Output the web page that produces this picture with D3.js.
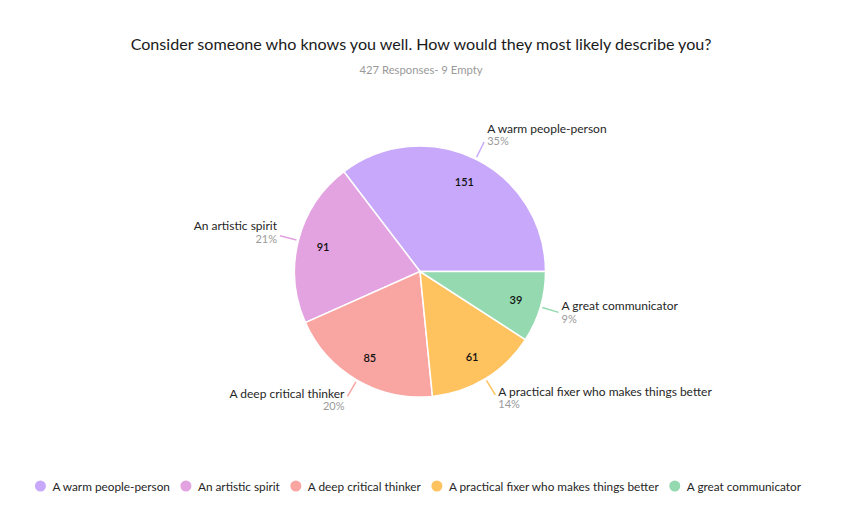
<!DOCTYPE html>
<html>
<head>
<meta charset="utf-8">
<script src="https://cdn.jsdelivr.net/npm/d3@7"></script>
<style>
  body { margin: 0; background: #fff; }
  svg { font-family: Lato, "Open Sans", sans-serif; }
</style>
</head>
<body>
<div id="chart"></div>
<script>
// chart data
var categories = ["A warm people-person", "An artistic spirit", "A deep critical thinker",
                  "A practical fixer who makes things better", "A great communicator"];
var counts = [151, 91, 85, 61, 39];
var percents = ["35%", "21%", "20%", "14%", "9%"];
var colors = ["#c8a8fa", "#e3a2e0", "#f9a5a2", "#fec25f", "#94d9b0"];

var titleText = "Consider someone who knows you well. How would they most likely describe you?";
var subtitleText = "427 Responses- 9 Empty";

var width = 852, height = 526;
var cx = 420, cy = 271.5, radius = 125.5;

var svg = d3.select("#chart").append("svg")
    .attr("width", width)
    .attr("height", height);

svg.append("text")
    .attr("x", 421).attr("y", 50)
    .attr("text-anchor", "middle")
    .attr("font-size", 16.1)
    .attr("fill", "#1a1a1a")
    .text(titleText);

svg.append("text")
    .attr("x", 421).attr("y", 74)
    .attr("text-anchor", "middle")
    .attr("font-size", 11.3)
    .attr("fill", "#9a9a9a")
    .text(subtitleText);

var data = categories.map(function(c, i) {
    return { name: c, value: counts[i], pct: percents[i], color: colors[i] };
});

// counter-clockwise from 3 o'clock, in legend order
var pie = d3.pie()
    .sort(null)
    .value(function(d) { return d.value; })
    .startAngle(Math.PI / 2)
    .endAngle(Math.PI / 2 - 2 * Math.PI);

var arcs = pie(data);
var arc = d3.arc().innerRadius(0).outerRadius(radius);
var valueArc = d3.arc().innerRadius(100).outerRadius(100);

var g = svg.append("g")
    .attr("transform", "translate(" + cx + "," + cy + ")");

g.selectAll("path.slice")
    .data(arcs)
    .enter()
    .append("path")
    .attr("class", "slice")
    .attr("d", arc)
    .attr("fill", function(d) { return d.data.color; })
    .attr("stroke", "#fff")
    .attr("stroke-width", 1.5);

g.selectAll("text.value")
    .data(arcs)
    .enter()
    .append("text")
    .attr("class", "value")
    .attr("transform", function(d) { return "translate(" + valueArc.centroid(d) + ")"; })
    .attr("text-anchor", "middle")
    .attr("dominant-baseline", "central")
    .attr("font-size", 11)
    .attr("font-weight", 600)
    .attr("fill", "#111")
    .text(function(d) { return d.data.value; });

// leader lines and outside labels
function midAngle(d) { return (d.startAngle + d.endAngle) / 2; }
function polar(r, a) { return [r * Math.sin(a), -r * Math.cos(a)]; }

arcs.forEach(function(d) {
    var a = midAngle(d);
    var p0 = polar(radius + 2, a), p1 = polar(radius + 19, a);
    var right = Math.sin(a) > 0;
    g.append("line")
        .attr("x1", p0[0]).attr("y1", p0[1])
        .attr("x2", p1[0]).attr("y2", p1[1])
        .attr("stroke", d.data.color)
        .attr("stroke-width", 1.5);

    var tx = p1[0] + (right ? 3 : -3);
    var mid = p1[1] - 6 * Math.cos(a) - 1.5;
    var lab = g.append("text")
        .attr("text-anchor", right ? "start" : "end")
        .attr("font-size", 12);
    lab.append("tspan")
        .attr("x", tx).attr("y", mid - 2.5)
        .attr("fill", "#262626")
        .text(d.data.name);
    lab.append("tspan")
        .attr("x", tx).attr("y", mid + 10)
        .attr("font-size", 11)
        .attr("fill", "#9a9a9a")
        .text(d.data.pct);
});

// legend
var legend = svg.append("g");
var lx = 0;
data.forEach(function(d) {
    var item = legend.append("g").attr("transform", "translate(" + lx + ",0)");
    item.append("circle")
        .attr("cx", 0).attr("cy", 0).attr("r", 5.5)
        .attr("fill", d.color);
    var t = item.append("text")
        .attr("x", 12).attr("y", 0)
        .attr("dominant-baseline", "central")
        .attr("font-size", 11.8)
        .attr("fill", "#262626")
        .text(d.name);
    lx += 12 + t.node().getComputedTextLength() + 16;
});
var legendW = lx - 16 + 5.5;
legend.attr("transform", "translate(" + (418 - legendW / 2 + 5.5) + ",486)");
</script>
</body>
</html>
